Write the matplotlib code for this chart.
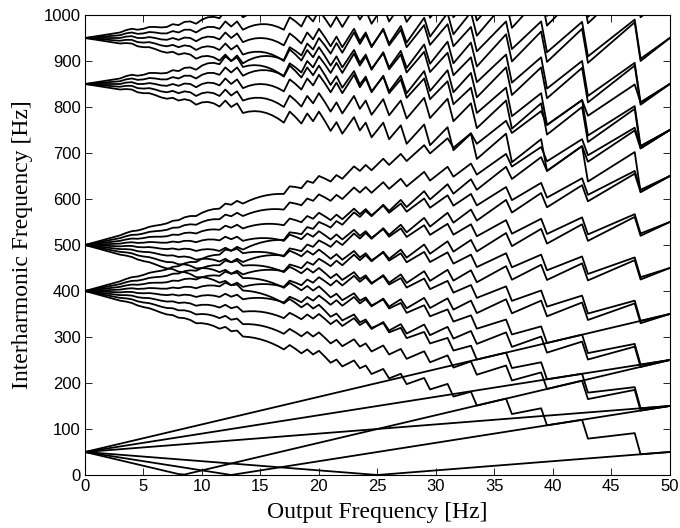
import numpy as np
import matplotlib
matplotlib.use('Agg')
import matplotlib.pyplot as plt

# ------------------------- #
# Data
# ------------------------- #

# output frequency steps [Hz]
f_out = np.arange(0.0, 50.01, 0.5)

# nominal switching frequency and input frequency [Hz]
fs_nominal = 450.0
f_in = 50.0

# sideband orders seen around each group
orders_fi = [2, 4, 6]                      # around 50 Hz
orders_fs = [-7, -5, -3, -1, 1, 3, 5, 7]   # around 400 / 500 Hz
orders_2fs = [-4, -2, 0, 2, 4]             # around 850 / 950 Hz

# ------------------------- #
# Interharmonic curves
# ------------------------- #

f_safe = np.where(f_out == 0, 1e-9, f_out)
pulses = np.floor(fs_nominal / f_safe + 0.5)
fs = np.where(f_out == 0, fs_nominal, pulses * f_out)

curves = []
for k in orders_fi:
    curves.append(np.abs(f_in + k * f_out))
    curves.append(np.abs(f_in - k * f_out))
for k in orders_fs:
    curves.append(np.abs(fs - f_in + k * f_out))
    curves.append(np.abs(fs + f_in + k * f_out))
for k in orders_2fs:
    curves.append(np.abs(2 * fs - f_in + k * f_out))
    curves.append(np.abs(2 * fs + f_in + k * f_out))

# ------------------------- #
# Plot
# ------------------------- #

fig = plt.figure(figsize=(6.8, 5.28), dpi=100)
ax = fig.add_axes([0.125, 0.1004, 0.86, 0.8712])

for c in curves:
    ax.plot(f_out, c, color='black', linewidth=1.3)

ax.set_xlim(0, 50)
ax.set_ylim(0, 1000)
ax.set_xticks(np.arange(0, 51, 5))
ax.set_yticks(np.arange(0, 1001, 100))
ax.tick_params(direction='in', top=True, right=True, length=5, width=0.6,
               labelsize=12, pad=3)
for lab in ax.get_xticklabels() + ax.get_yticklabels():
    lab.set_family('Liberation Sans')
for sp in ax.spines.values():
    sp.set_linewidth(0.8)

ax.set_xlabel('Output Frequency [Hz]', family='Liberation Serif', fontsize=17,
              labelpad=6)
ax.set_ylabel('Interharmonic Frequency [Hz]', family='Liberation Serif',
              fontsize=17, labelpad=8)

fig.savefig('out.png', dpi=100)
